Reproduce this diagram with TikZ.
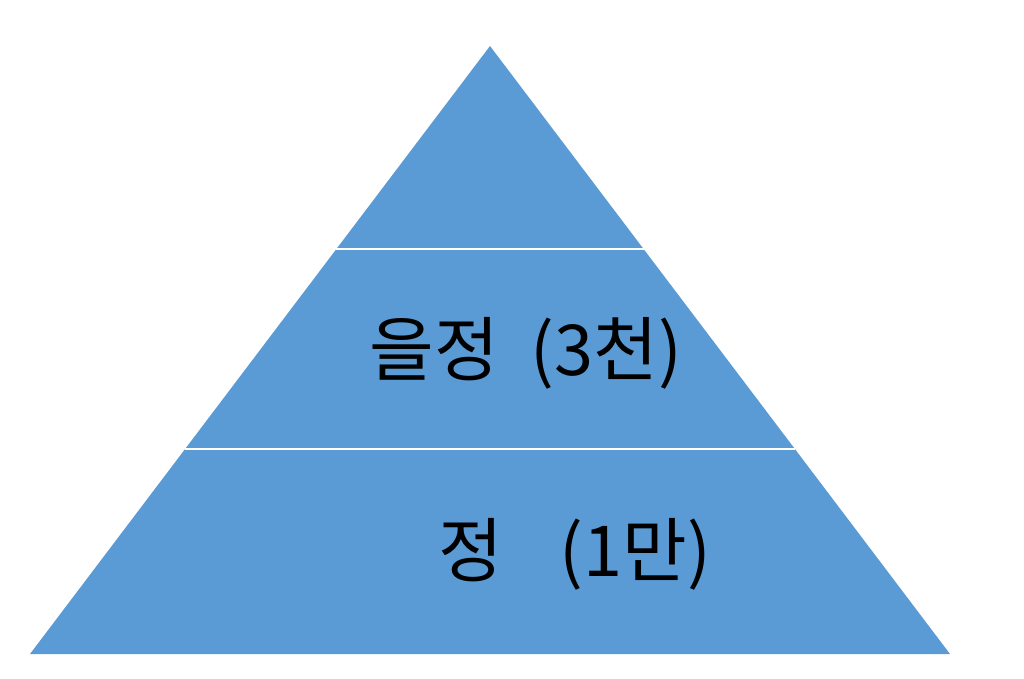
\documentclass[tikz,border=0pt]{standalone}
\usepackage{fontspec}
\usepackage{xcolor}
\newfontfamily\krfont{Noto Sans CJK KR}
\definecolor{tierblue}{HTML}{5B9BD5}

\begin{document}
\begin{tikzpicture}[scale=0.2]
\tikzstyle{every node}+=[inner sep=0pt]
\tikzstyle{tierlabel}=[font=\krfont\fontsize{40}{46}\selectfont, text=black]
\useasboundingbox (0,0) rectangle (102.4,-67.9);
\fill [tierblue] (49,-4.6) -- (95,-65.4) -- (3,-65.4) -- cycle;
\draw [white, line width=1.1pt] (33.55,-24.9) -- (64.45,-24.9);
\draw [white, line width=1.1pt] (18.5,-44.9) -- (79.5,-44.9);
\node [tierlabel] (middle) at (52.6,-35.3) {을정\hspace{0.45em}(3천)};
\node [tierlabel] (bottom) at (57.5,-55.4) {정\hspace{0.8em}(1만)};
\end{tikzpicture}
\end{document}
